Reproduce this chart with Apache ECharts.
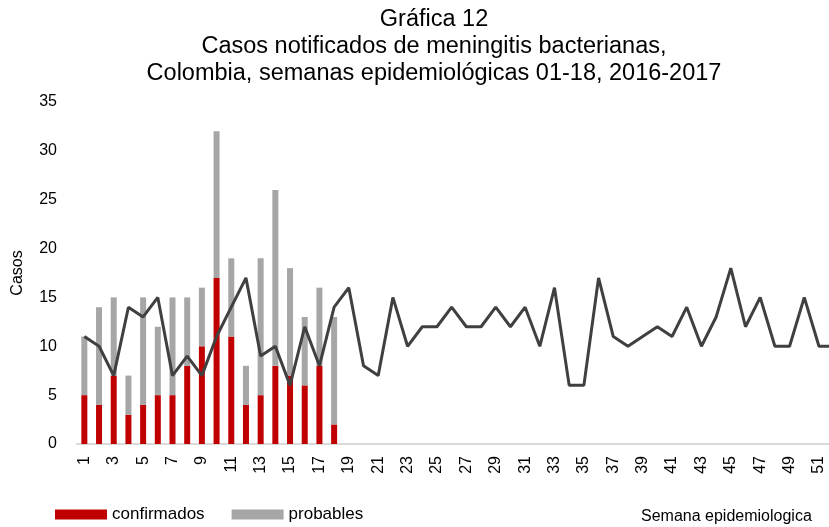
<!DOCTYPE html>
<html>
<head>
<meta charset="utf-8">
<script src="https://cdn.jsdelivr.net/npm/echarts@6/dist/echarts.min.js"></script>
<style>
    html, body { margin: 0; padding: 0; background: #fff; }
    #main { width: 829px; height: 527px; }
</style>
</head>
<body>
<div id="main"></div>
<script>
// semanas 1..52
const semanas = []
for (let i = 1; i <= 52; i++) semanas.push(String(i))

// 2017, semanas 01-18
const confirmados = [5, 4, 7, 3, 4, 5, 5, 8, 10, 17, 11, 4, 5, 8, 7, 6, 8, 2]
const probables = [6, 10, 8, 4, 11, 7, 10, 7, 6, 15, 8, 4, 14, 18, 11, 7, 8, 11]

// 2016, todas las semanas
const casos2016 = [
    11, 10, 7, 14, 13, 15, 7, 9, 7, 11,
    14, 17, 9, 10, 6, 12, 8, 14, 16, 8,
    7, 15, 10, 12, 12, 14, 12, 12, 14, 12,
    14, 10, 16, 6, 6, 17, 11, 10, 11, 12,
    11, 14, 10, 13, 18, 12, 15, 10, 10, 15,
    10, 10,
]

const yTicks = { min: 0, max: 35, interval: 5 }

const font = 'Liberation Sans, Arial, sans-serif'

var chartDom = document.getElementById('main')
var myChart = echarts.init(chartDom)
var option = {
    animation: false,
    textStyle: { fontFamily: font },
    title: [
        {
            text: 'Gráfica 12\nCasos notificados de meningitis bacterianas,\nColombia, semanas epidemiológicas 01-18, 2016-2017',
            left: 429,
            textAlign: 'center',
            top: 1,
            textStyle: {
                fontFamily: font,
                fontSize: 23.5,
                fontWeight: 'normal',
                color: '#000',
                lineHeight: 27,
            },
        },
        {
            text: 'Semana epidemiologica',
            left: 636,
            top: 504,
            textStyle: {
                fontFamily: font,
                fontSize: 16,
                fontWeight: 'normal',
                color: '#000',
            },
        },
    ],
    legend: {
        left: 55,
        top: 506,
        padding: 0,
        itemWidth: 52,
        itemHeight: 10,
        itemGap: 27,
        icon: 'rect',
        data: ['confirmados', 'probables'],
        textStyle: { fontFamily: font, fontSize: 17, color: '#000' },
    },
    grid: {
        left: 77,
        right: -12,
        top: 102,
        bottom: 83,
        containLabel: false,
        outerBoundsMode: 'none',
    },
    xAxis: {
        type: 'category',
        data: semanas,
        axisLine: { lineStyle: { color: '#d9d9d9', width: 2 } },
        axisTick: { show: false },
        axisLabel: {
            interval: 1,
            rotate: 90,
            fontSize: 16,
            color: '#000',
            margin: 12,
        },
    },
    yAxis: {
        type: 'value',
        min: yTicks.min,
        max: yTicks.max,
        interval: yTicks.interval,
        name: 'Casos',
        nameLocation: 'middle',
        nameGap: 51,
        nameRotate: 90,
        nameTextStyle: { fontSize: 16, color: '#000' },
        axisLine: { show: false },
        axisTick: { show: false },
        splitLine: { show: false },
        axisLabel: { fontSize: 16, color: '#000', margin: 20 },
    },
    series: [
        {
            name: 'confirmados',
            type: 'bar',
            stack: 'casos',
            data: confirmados,
            barWidth: 6,
            itemStyle: { color: '#c00000' },
        },
        {
            name: 'probables',
            type: 'bar',
            stack: 'casos',
            data: probables,
            barWidth: 6,
            itemStyle: { color: '#a6a6a6' },
        },
        {
            name: '2016',
            type: 'line',
            data: casos2016,
            symbol: 'none',
            lineStyle: { color: '#404040', width: 3 },
            z: 3,
        },
    ],
}
option && myChart.setOption(option)
</script>
</body>
</html>
